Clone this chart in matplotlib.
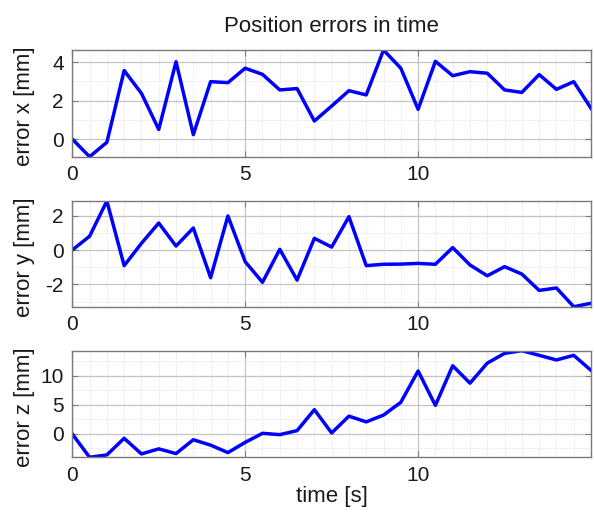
import matplotlib
matplotlib.use("Agg")
import matplotlib.pyplot as plt
import numpy as np
from matplotlib.ticker import MultipleLocator

plt.rcParams['font.family'] = ['Liberation Sans', 'DejaVu Sans']
plt.rcParams['axes.unicode_minus'] = False

# sample times [s]
t = np.arange(31) * 0.5

err_x = [0.0, -0.92, -0.17, 3.57, 2.38, 0.5, 4.03, 0.23, 2.99, 2.94,
         3.69, 3.37, 2.56, 2.63, 0.94, 1.72, 2.52, 2.3, 4.64, 3.69,
         1.55, 4.05, 3.3, 3.51, 3.43, 2.56, 2.43, 3.36, 2.59, 2.99, 1.6]
err_y = [0.0, 0.8, 2.85, -0.91, 0.39, 1.57, 0.23, 1.28, -1.61, 1.98,
         -0.68, -1.88, 0.04, -1.75, 0.68, 0.17, 1.94, -0.91, -0.83, -0.82,
         -0.78, -0.83, 0.14, -0.87, -1.5, -0.97, -1.4, -2.35, -2.21, -3.3, -3.1]
err_z = [-0.06, -4.07, -3.66, -0.8, -3.49, -2.62, -3.43, -1.05, -1.98, -3.26,
         -1.5, 0.06, -0.17, 0.52, 4.13, 0.12, 3.02, 2.03, 3.2, 5.4,
         10.8, 4.88, 11.7, 8.7, 12.15, 13.84, 14.3, 13.5, 12.7, 13.5, 10.9]

series = [err_x, err_y, err_z]
ylabels = ['error x [mm]', 'error y [mm]', 'error z [mm]']
ymajor = [2, 2, 5]
yminor = [1, 1, 2.5]

fig = plt.figure(figsize=(5.94, 5.16), dpi=100)
rects = [[0.1217, 0.6963, 0.8727, 0.2068],
         [0.1217, 0.4056, 0.8727, 0.2048],
         [0.1217, 0.1138, 0.8727, 0.2066]]

frame = '#7a7a7a'
for i, rect in enumerate(rects):
    ax = fig.add_axes(rect)
    y = np.array(series[i])
    ax.plot(t, y, color=(0, 0, 1), lw=2.5, solid_joinstyle='round')
    ax.set_xlim(0, 14.99)
    ax.set_ylim(y.min(), y.max())
    ax.xaxis.set_major_locator(MultipleLocator(5))
    ax.xaxis.set_minor_locator(MultipleLocator(0.5))
    ax.yaxis.set_major_locator(MultipleLocator(ymajor[i]))
    ax.yaxis.set_minor_locator(MultipleLocator(yminor[i]))
    ax.grid(True, which='major', color='#c4c4c4', lw=0.9, ls='-')
    ax.grid(True, which='minor', color='#d8d8d8', lw=0.6, ls=(0, (1, 1.5)))
    ax.set_axisbelow(True)
    ax.tick_params(which='major', direction='in', length=4, width=0.8,
                   color=frame, top=True, right=True, labelsize=15, pad=6,
                   labelcolor='#1a1a1a')
    ax.tick_params(which='minor', length=0, top=True, right=True)
    for sp in ax.spines.values():
        sp.set_color(frame)
        sp.set_linewidth(1.0)
    ax.set_ylabel(ylabels[i], fontsize=16, color='#1a1a1a')
    ax.yaxis.set_label_coords(-0.072, 0.47)
    if i == 0:
        ax.set_title('Position errors in time', fontsize=16, pad=13,
                     color='#1a1a1a')
    if i == 2:
        ax.set_xlabel('time [s]', fontsize=16, labelpad=1, color='#1a1a1a')

fig.savefig('out.png', dpi=100)
